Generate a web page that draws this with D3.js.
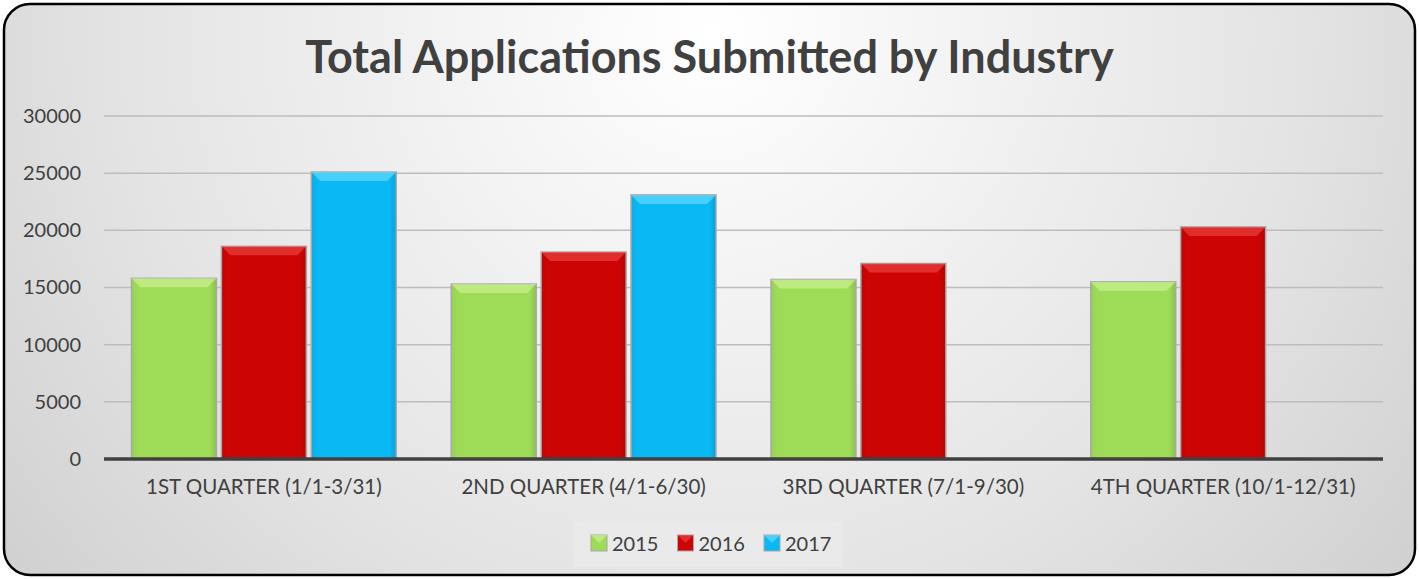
<!DOCTYPE html>
<html lang="en">
<head>
    <meta charset="UTF-8">
    <title>Total Applications Submitted by Industry</title>
    <script src="https://d3js.org/d3.v7.min.js"></script>
    <style>
        body {
            margin: 0;
            background-color: #ffffff;
        }
        text {
            font-family: Lato, 'Open Sans', sans-serif;
            fill: #404040;
        }
    </style>
</head>
<body>
    <script>
        // Data
        const quarters = ["1ST QUARTER (1/1-3/31)", "2ND QUARTER (4/1-6/30)", "3RD QUARTER (7/1-9/30)", "4TH QUARTER (10/1-12/31)"];
        const years = ["2015", "2016", "2017"];
        const values2015 = [15800, 15300, 15700, 15500];
        const values2016 = [18600, 18100, 17100, 20300];
        const values2017 = [25100, 23100, null, null];
        const yTicks = [0, 5000, 10000, 15000, 20000, 25000, 30000];

        const colors = {"2015": "#9edc58", "2016": "#cc0404", "2017": "#0ab8f4"};
        const light = {"2015": "#d4f59a", "2016": "#f04a4a", "2017": "#6fe0ff"};
        const seriesValues = {"2015": values2015, "2016": values2016, "2017": values2017};

        const W = 1419, H = 579;
        const margin = {top: 116, right: 36, bottom: 120, left: 104};
        const width = W - margin.left - margin.right,
              height = H - margin.top - margin.bottom;

        const svg = d3.select("body").append("svg")
            .attr("width", W)
            .attr("height", H);

        // background + frame
        const defs = svg.append("defs");
        const bg = defs.append("radialGradient")
            .attr("id", "bg")
            .attr("cx", "50%").attr("cy", "5%").attr("r", "75%")
            .attr("gradientTransform", "translate(0.5,0.05) scale(1,2.4) translate(-0.5,-0.05)");
        bg.append("stop").attr("offset", "0%").attr("stop-color", "#ffffff");
        bg.append("stop").attr("offset", "55%").attr("stop-color", "#e4e4e4");
        bg.append("stop").attr("offset", "100%").attr("stop-color", "#c6c6c6");

        svg.append("rect")
            .attr("x", 4).attr("y", 4)
            .attr("width", W - 8).attr("height", H - 8)
            .attr("rx", 26).attr("ry", 26)
            .attr("fill", "url(#bg)")
            .attr("stroke", "#000")
            .attr("stroke-width", 2.5);

        // title
        svg.append("text")
            .attr("x", W / 2)
            .attr("y", 73)
            .attr("text-anchor", "middle")
            .style("font-size", "45px")
            .style("font-weight", "bold")
            .text("Total Applications Submitted by Industry");

        const g = svg.append("g")
            .attr("transform", "translate(" + margin.left + "," + margin.top + ")");

        // scales
        const x0 = d3.scaleBand().domain(quarters).range([0, width]);
        const bw = x0.bandwidth();
        const x1 = d3.scaleBand().domain(years)
            .range([bw * 0.086, bw * 0.914])
            .paddingInner(0.055);
        const y = d3.scaleLinear().domain([0, 30000]).range([height, 0]);

        // gridlines
        g.selectAll(".grid")
            .data(yTicks.filter(d => d > 0))
            .enter().append("line")
            .attr("x1", 0).attr("x2", width)
            .attr("y1", d => y(d)).attr("y2", d => y(d))
            .attr("stroke", "#bdbdbd")
            .attr("stroke-width", 1.5);

        // y axis labels
        const yAxis = g.append("g")
            .call(d3.axisLeft(y).tickValues(yTicks).tickSize(0).tickPadding(23).tickFormat(d3.format("d")));
        yAxis.select(".domain").remove();
        yAxis.selectAll("text")
            .style("font-size", "20px")
            .attr("fill", "#404040");

        // bars
        const bars = [];
        years.forEach(yr => {
            seriesValues[yr].forEach((v, i) => {
                if (v != null) bars.push({year: yr, quarter: quarters[i], value: v});
            });
        });

        years.forEach(yr => {
            const lg = defs.append("linearGradient")
                .attr("id", "side-" + yr)
                .attr("x1", "0").attr("x2", "1").attr("y1", "0").attr("y2", "0");
            lg.append("stop").attr("offset", "0%").attr("stop-color", d3.color(colors[yr]).darker(0.15));
            lg.append("stop").attr("offset", "8%").attr("stop-color", colors[yr]);
            lg.append("stop").attr("offset", "92%").attr("stop-color", colors[yr]);
            lg.append("stop").attr("offset", "100%").attr("stop-color", d3.color(colors[yr]).darker(0.35));
        });

        const barG = g.selectAll(".bar")
            .data(bars)
            .enter().append("g")
            .attr("class", "bar")
            .attr("transform", d => "translate(" + (x0(d.quarter) + x1(d.year)) + ",0)");

        barG.append("rect")
            .attr("x", 0)
            .attr("y", d => y(d.value))
            .attr("width", x1.bandwidth())
            .attr("height", d => height - y(d.value))
            .attr("fill", d => "url(#side-" + d.year + ")")
            .attr("stroke", "#a8a8a8")
            .attr("stroke-width", 1.5);

        // top bevel
        const bev = 9;
        barG.append("path")
            .attr("d", d => {
                const t = y(d.value), w = x1.bandwidth();
                return "M0," + t + "L" + w + "," + t + "L" + (w - bev) + "," + (t + bev) + "L" + bev + "," + (t + bev) + "Z";
            })
            .attr("fill", d => light[d.year])
            .attr("opacity", 0.6);

        // x axis line
        g.append("line")
            .attr("x1", 0).attr("x2", width)
            .attr("y1", y(0)).attr("y2", y(0))
            .attr("stroke", "#404040")
            .attr("stroke-width", 3.5);

        // category labels
        const xAxis = g.append("g")
            .attr("transform", "translate(0," + height + ")")
            .call(d3.axisBottom(x0).tickSize(0).tickPadding(20));
        xAxis.select(".domain").remove();
        xAxis.selectAll("text")
            .style("font-size", "20.5px")
            .attr("fill", "#404040");

        // legend
        const legend = svg.append("g")
            .attr("transform", "translate(573,521)");
        legend.append("rect")
            .attr("width", 270).attr("height", 46)
            .attr("fill", "#ebebeb")
            .attr("opacity", 0.7);
        const item = legend.selectAll(".item")
            .data(years)
            .enter().append("g")
            .attr("transform", (d, i) => "translate(" + (18 + i * 86.5) + ",14)");
        item.append("rect")
            .attr("width", 16).attr("height", 16)
            .attr("fill", d => colors[d])
            .attr("stroke", "#a8a8a8")
            .attr("stroke-width", 1);
        item.append("path")
            .attr("d", "M0,0L8,8L16,0Z")
            .attr("fill", d => light[d])
            .attr("opacity", 0.6);
        item.append("text")
            .attr("x", 21)
            .attr("y", 16)
            .style("font-size", "20px")
            .text(d => d);
    </script>
</body>
</html>
